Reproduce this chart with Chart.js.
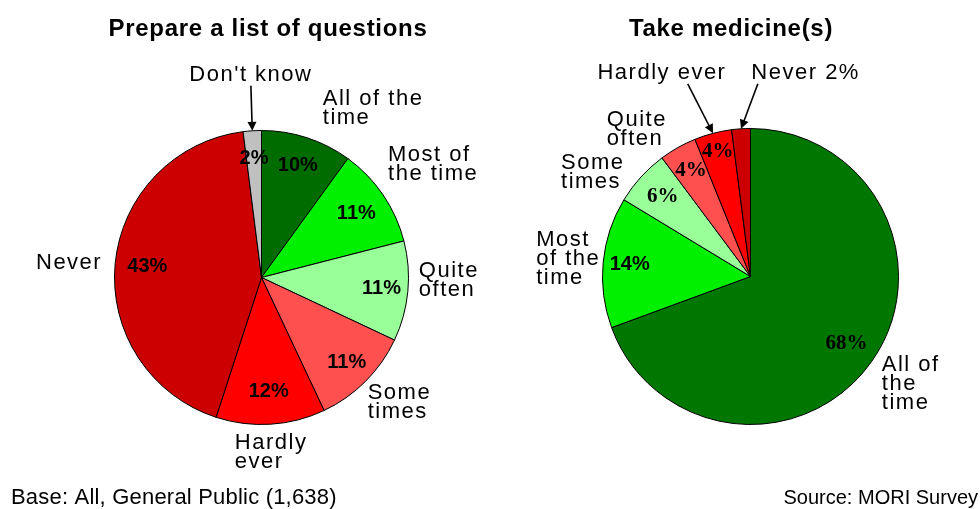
<!DOCTYPE html>
<html>
<head>
<meta charset="utf-8">
<script src="https://cdn.jsdelivr.net/npm/chart.js@4/dist/chart.umd.min.js"></script>
<style>
    html, body { margin: 0; padding: 0; background: #ffffff; }
    #page { position: relative; width: 980px; height: 509px; overflow: hidden; }
    .half { position: absolute; top: 0; width: 490px; height: 509px; }
</style>
</head>
<body>
<div id="page">
    <div class="half" style="left:0"><canvas id="prepChart" width="490" height="509"></canvas></div>
    <div class="half" style="left:490px"><canvas id="medChart" width="490" height="509"></canvas></div>
</div>
<script>
// Data

const prepTitle = "Prepare a list of questions";
const prepLabels = ["All of the time", "Most of the time", "Quite often", "Some times", "Hardly ever", "Never", "Don't know"];
const prepValues = [10, 11, 11, 11, 12, 43, 2];
const prepColors = ["#006c00", "#00f000", "#99ff99", "#ff5050", "#ff0000", "#cc0000", "#c0c0c0"];
const prepLines = [["All of the", "time"], ["Most of", "the time"], ["Quite", "often"], ["Some", "times"], ["Hardly", "ever"], ["Never"], ["Don't know"]];
const prepInner = [true, true, true, true, true, true, true];

const medTitle = "Take medicine(s)";
const medLabels = ["All of the time", "Most of the time", "Some times", "Quite often", "Hardly ever", "Never"];
const medValues = [68, 14, 6, 4, 4, 2];
const medColors = ["#007700", "#00f000", "#99ff99", "#ff5050", "#ff0000", "#cc0000"];
const medLines = [["All of", "the", "time"], ["Most", "of the", "time"], ["Some", "times"], ["Quite", "often"], ["Hardly ever"], ["Never 2%"]];
const medInner = [true, true, true, true, true, false];

const baseNote = "Base: All, General Public (1,638)";
const sourceNote = "Source: MORI Survey";


// Label placement tweaks (dx, dy), arrows and inner text settings

const prepNudge = [[14, -5], [0, -16], [5, -13], [-2, 3], [0, 3], [-7, 1], [-1, -40]];
const prepArrow = [null, null, null, null, null, null, 0.5];
const prepInnerR = [0.8, 0.78, 0.82, 0.82, 0.78, 0.78, 0.81];
const prepInnerFont = "bold 20px 'Liberation Sans', Arial, sans-serif";

const medNudge = [[5, 3], [3, 0], [-12, 12], [-8, 4], [15, -45], [65, -40]];
const medArrow = [null, null, null, null, 0.7, 0.06];
const medInnerR = [0.79, 0.82, 0.8, 0.82, 0.87, 0.8];
const medSerif = [true, false, true, true, true, false];

const labelFont = "22px 'Liberation Sans', Arial, sans-serif";
const lineHeight = 19;


function drawArrow(ctx, x1, y1, x2, y2) {
    const ang = Math.atan2(y2 - y1, x2 - x1);
    ctx.save();
    ctx.strokeStyle = "#000";
    ctx.fillStyle = "#000";
    ctx.lineWidth = 1.6;
    ctx.beginPath();
    ctx.moveTo(x1, y1);
    ctx.lineTo(x2 - Math.cos(ang) * 6, y2 - Math.sin(ang) * 6);
    ctx.stroke();
    ctx.beginPath();
    ctx.moveTo(x2, y2);
    ctx.lineTo(x2 - Math.cos(ang) * 9 + Math.sin(ang) * 4.5, y2 - Math.sin(ang) * 9 - Math.cos(ang) * 4.5);
    ctx.lineTo(x2 - Math.cos(ang) * 9 - Math.sin(ang) * 4.5, y2 - Math.sin(ang) * 9 + Math.cos(ang) * 4.5);
    ctx.closePath();
    ctx.fill();
    ctx.restore();
}


// Plugin that writes the slice labels, titles and notes

const pieText = {
    id: "pieText",
    afterDatasetsDraw(chart) {
        const cfg = chart.options.plugins.pieText;
        const ctx = chart.ctx;
        const meta = chart.getDatasetMeta(0);
        const values = chart.data.datasets[0].data;

        ctx.save();
        if ("letterSpacing" in ctx) ctx.letterSpacing = "0.7px";
        ctx.fillStyle = "#000";
        ctx.font = "bold 24px 'Liberation Sans', Arial, sans-serif";
        ctx.textAlign = "center";
        ctx.textBaseline = "middle";
        ctx.fillText(cfg.title, cfg.titleX, 29);

        if ("letterSpacing" in ctx) ctx.letterSpacing = cfg.noteSpacing;
        ctx.font = cfg.noteFont;
        ctx.textAlign = cfg.noteAlign;
        ctx.fillText(cfg.note, cfg.noteX, 498);

        meta.data.forEach((arc, i) => {
            const p = arc.getProps(["x", "y", "startAngle", "endAngle", "outerRadius"], true);
            const mid = (p.startAngle + p.endAngle) / 2;
            const sx = Math.cos(mid);
            const sy = Math.sin(mid);

            // percentage inside the slice
            if (cfg.inner[i]) {
                const rr = p.outerRadius * cfg.innerR[i];
                if ("letterSpacing" in ctx) ctx.letterSpacing = "0px";
                ctx.font = cfg.serif && cfg.serif[i] ? "bold 21px 'Liberation Serif', 'Times New Roman', serif" : cfg.innerFont;
                ctx.textAlign = "center";
                ctx.textBaseline = "middle";
                ctx.fillText(values[i] + "%", p.x + sx * rr, p.y + sy * rr);
            }

            // category name outside
            if ("letterSpacing" in ctx) ctx.letterSpacing = "1.5px";
            ctx.font = labelFont;
            ctx.textAlign = "left";
            const lines = cfg.lines[i];
            const w = Math.max(...lines.map(l => ctx.measureText(l).width));
            const h = lines.length * lineHeight;
            const px = p.x + sx * (p.outerRadius + 6);
            const py = p.y + sy * (p.outerRadius + 6);
            let left = px - w / 2;
            if (sx > 0.15) left = px;
            if (sx < -0.15) left = px - w;
            let top = py - h * (1 - sy) / 2;
            left += cfg.nudge[i][0];
            top += cfg.nudge[i][1];
            lines.forEach((l, k) => ctx.fillText(l, left, top + lineHeight * (k + 0.5)));

            if (cfg.arrow[i] !== null) {
                drawArrow(ctx, left + w * cfg.arrow[i], top + h + 1,
                    p.x + sx * p.outerRadius, p.y + sy * p.outerRadius);
            }
        });
        ctx.restore();
    }
};


function pieOptions(padding, text) {
    return {
        responsive: false,
        animation: false,
        events: [],
        layout: { padding: padding },
        plugins: {
            legend: { display: false },
            tooltip: { enabled: false },
            pieText: text
        }
    };
}


// Prepare a list of questions

const prepChart = new Chart(document.getElementById("prepChart"), {
    type: "pie",
    data: {
        labels: prepLabels,
        datasets: [{
            data: prepValues,
            backgroundColor: prepColors,
            borderColor: "#000000",
            borderWidth: 1
        }]
    },
    options: pieOptions({ left: 114, top: 130, right: 81, bottom: 84 }, {
        title: prepTitle, titleX: 268,
        note: baseNote, noteX: 11, noteAlign: "left",
        noteFont: "22px 'Liberation Sans', Arial, sans-serif", noteSpacing: "0.2px",
        lines: prepLines, nudge: prepNudge, arrow: prepArrow,
        inner: prepInner, innerR: prepInnerR, innerFont: prepInnerFont
    }),
    plugins: [pieText]
});


// Take medicine(s)

const medChart = new Chart(document.getElementById("medChart"), {
    type: "pie",
    data: {
        labels: medLabels,
        datasets: [{
            data: medValues,
            backgroundColor: medColors,
            borderColor: "#000000",
            borderWidth: 1
        }]
    },
    options: pieOptions({ left: 112, top: 128, right: 81, bottom: 84 }, {
        title: medTitle, titleX: 241,
        note: sourceNote, noteX: 488, noteAlign: "right",
        noteFont: "20px 'Liberation Sans', Arial, sans-serif", noteSpacing: "0px",
        lines: medLines, nudge: medNudge, arrow: medArrow,
        inner: medInner, innerR: medInnerR, innerFont: prepInnerFont, serif: medSerif
    }),
    plugins: [pieText]
});
</script>
</body>
</html>
